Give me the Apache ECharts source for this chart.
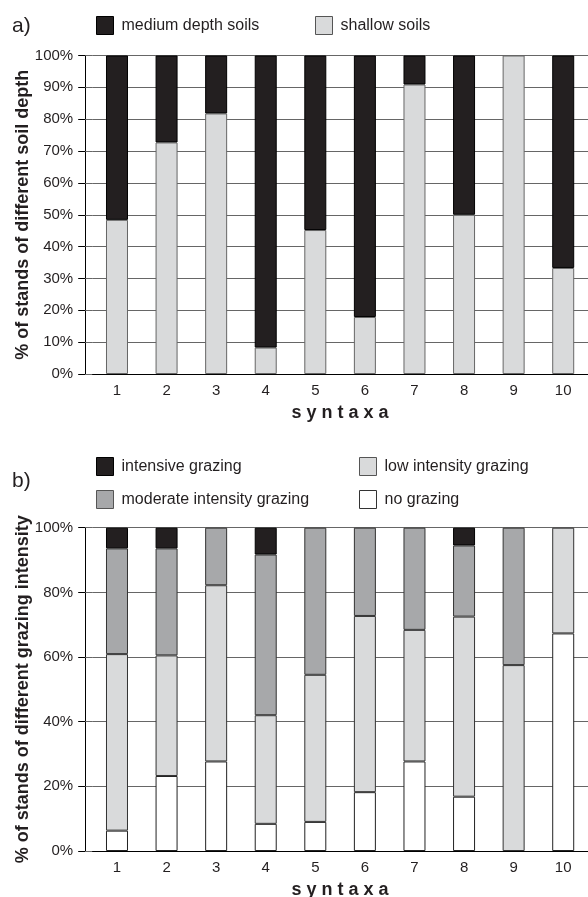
<!DOCTYPE html>
<html>
<head>
<meta charset="utf-8">
<script src="https://cdn.jsdelivr.net/npm/echarts@6/dist/echarts.min.js"></script>
<style>
html,body{margin:0;padding:0;background:#fff;}
#c{width:588px;height:897px;}
</style>
</head>
<body>
<div id="c"></div>
<script>
// ---- data ----
const syntaxa = ['1', '2', '3', '4', '5', '6', '7', '8', '9', '10'];
// chart a) soil depth (% of stands)
const shallowSoils = [48.4, 72.7, 81.8, 8.3, 45.2, 17.9, 90.9, 50, 100, 33.3];
const mediumSoils  = [51.6, 27.3, 18.2, 91.7, 54.8, 82.1, 9.1, 50, 0, 66.7];
// chart b) grazing intensity (% of stands)
const noGrazing        = [6.3, 23.2, 27.7, 8.4, 9.0, 18.2, 27.7, 16.8, 0, 67.3];
const lowGrazing       = [54.6, 37.3, 54.5, 33.6, 45.5, 54.5, 40.7, 55.7, 57.5, 32.7];
const moderateGrazing  = [32.7, 33.1, 17.8, 49.7, 45.5, 27.3, 31.6, 22.0, 42.5, 0];
const intensiveGrazing = [6.4, 6.4, 0, 8.3, 0, 0, 0, 5.5, 0, 0];

const FONT = 'Liberation Sans, Arial, sans-serif';
const TXT = '#231f20';
const BLACK = '#231f20', LIGHT = '#d9dadb', MID = '#a7a8aa', WHITE = '#ffffff';
const GRIDC = '#666';

function vals(arr) { return arr.map(v => (v === 0 ? '-' : v)); }

const chart = echarts.init(document.getElementById('c'), null, {renderer: 'canvas'});

function xAxisCfg(gi) {
  return {
    type: 'category', gridIndex: gi, data: syntaxa, boundaryGap: true,
    name: 's y n t a x a', nameLocation: 'middle', nameGap: 30, nameMoveOverlap: false,
    nameTextStyle: {fontFamily: FONT, fontSize: 18, fontWeight: 'bold', color: TXT},
    axisLine: {show: true, onZero: false, lineStyle: {color: '#000', width: 1}},
    axisTick: {show: false},
    splitLine: {show: false},
    axisLabel: {margin: 9, fontFamily: FONT, fontSize: 15, color: TXT, interval: 0}
  };
}
function yAxisMain(gi, name, interval) {
  return {
    type: 'value', gridIndex: gi, position: 'left', offset: 7, min: 0, max: 100, interval: interval,
    name: name, nameLocation: 'middle', nameGap: 53, nameRotate: 90, nameMoveOverlap: false,
    nameTextStyle: {fontFamily: FONT, fontSize: 18, fontWeight: 'bold', color: TXT},
    axisLine: {show: true, lineStyle: {color: '#000', width: 1}},
    axisTick: {show: true, length: 7, lineStyle: {color: '#000'}},
    splitLine: {show: true, lineStyle: {color: GRIDC, width: 1}},
    axisLabel: {margin: 12, fontFamily: FONT, fontSize: 15, color: TXT, formatter: '{value}%'}
  };
}
// companion axis: only inner ticks bridging the gap between the axis line and the plot
function yAxisBridge(gi, interval) {
  return {
    type: 'value', gridIndex: gi, position: 'left', offset: 7, min: 0, max: 100, interval: interval,
    axisLine: {show: false},
    axisTick: {show: true, inside: true, length: 7, lineStyle: {color: GRIDC}},
    splitLine: {show: false},
    axisLabel: {show: false}
  };
}
function barSeries(name, data, gi, yi, stack, color, border) {
  return {
    type: 'bar', name: name, xAxisIndex: gi, yAxisIndex: yi, stack: stack,
    barWidth: 22, data: vals(data),
    itemStyle: {color: color, borderColor: border, borderWidth: 1},
    emphasis: {disabled: true}
  };
}
function legendCfg(name, left, top, color, border) {
  return {
    data: [{name: name, icon: 'rect', itemStyle: {color: color, borderColor: border, borderWidth: 1}}],
    left: left, top: top, itemWidth: 17, itemHeight: 18, padding: 0, selectedMode: false,
    textStyle: {fontFamily: FONT, fontSize: 16, color: TXT, padding: [0, 0, 0, 3]}
  };
}

chart.setOption({
  animation: false,
  backgroundColor: '#fff',
  title: [
    {text: 'a)', left: 12, top: 16, padding: 0, textStyle: {fontFamily: FONT, fontSize: 21, fontWeight: 'normal', color: TXT}},
    {text: 'b)', left: 12, top: 471, padding: 0, textStyle: {fontFamily: FONT, fontSize: 21, fontWeight: 'normal', color: TXT}}
  ],
  legend: [
    legendCfg('medium depth soils', 96, 16, BLACK, '#000'),
    legendCfg('shallow soils', 315, 16, LIGHT, '#555'),
    legendCfg('intensive grazing', 96, 457, BLACK, '#000'),
    legendCfg('moderate intensity grazing', 96, 490, MID, '#555'),
    legendCfg('low intensity grazing', 359, 457, LIGHT, '#555'),
    legendCfg('no grazing', 359, 490, WHITE, '#333')
  ],
  grid: [
    {left: 92.2, right: 0, top: 55.5, height: 318.5, outerBoundsMode: 'none', containLabel: false},
    {left: 92.2, right: 0, top: 527.7, height: 323.3, outerBoundsMode: 'none', containLabel: false}
  ],
  xAxis: [xAxisCfg(0), xAxisCfg(1)],
  yAxis: [
    yAxisMain(0, '% of stands of different soil depth', 10),
    yAxisBridge(0, 10),
    yAxisMain(1, '% of stands of different grazing intensity', 20),
    yAxisBridge(1, 20)
  ],
  series: [
    barSeries('shallow soils', shallowSoils, 0, 0, 'a', LIGHT, '#666'),
    barSeries('medium depth soils', mediumSoils, 0, 0, 'a', BLACK, '#000'),
    barSeries('no grazing', noGrazing, 1, 2, 'b', WHITE, '#222'),
    barSeries('low intensity grazing', lowGrazing, 1, 2, 'b', LIGHT, '#333'),
    barSeries('moderate intensity grazing', moderateGrazing, 1, 2, 'b', MID, '#333'),
    barSeries('intensive grazing', intensiveGrazing, 1, 2, 'b', BLACK, '#000')
  ]
});
</script>
</body>
</html>
